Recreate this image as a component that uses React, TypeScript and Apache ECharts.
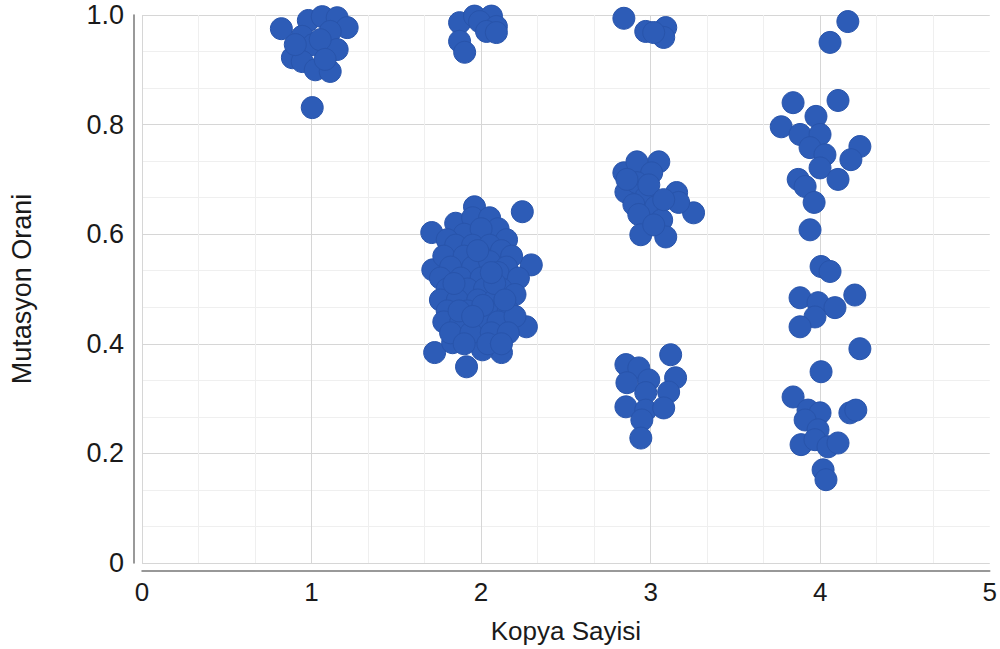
import React, { useEffect, useRef } from "react";
import * as echarts from "echarts";

const xTicks = [0, 1, 2, 3, 4, 5];
const yTicks = [0, 0.2, 0.4, 0.6, 0.8, 1.0];

const copy1: [number, number][] = [
  [0.822, 0.975], [0.981, 0.99], [1.063, 0.997], [1.151, 0.995], [1.21, 0.977],
  [0.945, 0.961], [1.11, 0.97], [1.01, 0.946], [1.151, 0.937], [0.887, 0.922],
  [0.945, 0.915], [1.022, 0.9], [1.11, 0.897], [1.004, 0.831], [0.904, 0.946],
  [1.051, 0.955], [1.08, 0.919],
];

const copy2High: [number, number][] = [
  [1.873, 0.986], [1.961, 0.998], [2.061, 0.998], [1.991, 0.988], [2.09, 0.979],
  [2.032, 0.97], [2.09, 0.968], [1.873, 0.952], [1.903, 0.932],
];

const copy2Main: [number, number][] = [
  [1.961, 0.65], [2.243, 0.641], [1.709, 0.603], [2.296, 0.544], [1.715, 0.535],
  [2.267, 0.431], [1.726, 0.384], [1.914, 0.358], [2.12, 0.384], [2.008, 0.389],
  [1.832, 0.402],
  [1.85, 0.62], [1.95, 0.63], [2.05, 0.63], [2.1, 0.61], [1.9, 0.6], [2.0, 0.61],
  [1.8, 0.59], [2.15, 0.59], [1.85, 0.58], [1.95, 0.58], [2.05, 0.58], [2.12, 0.57],
  [1.78, 0.56], [1.9, 0.56], [2.0, 0.56], [2.18, 0.56], [1.82, 0.54], [1.95, 0.54],
  [2.05, 0.55], [2.15, 0.54], [1.76, 0.52], [1.88, 0.52], [2.0, 0.52], [2.1, 0.53],
  [2.22, 0.52], [1.8, 0.5], [1.92, 0.5], [2.02, 0.5], [2.12, 0.5], [2.2, 0.49],
  [1.76, 0.48], [1.86, 0.48], [1.98, 0.48], [2.08, 0.48], [1.8, 0.46], [1.92, 0.46],
  [2.04, 0.46], [2.16, 0.46], [1.78, 0.44], [1.88, 0.44], [2.0, 0.44], [2.1, 0.44],
  [2.2, 0.45], [1.82, 0.42], [1.94, 0.42], [2.06, 0.42], [2.16, 0.42], [1.9, 0.4],
  [2.04, 0.4], [2.12, 0.4], [1.98, 0.57], [2.08, 0.51], [1.87, 0.46], [2.01, 0.47],
  [1.95, 0.45], [2.14, 0.48], [1.84, 0.51], [2.06, 0.53],
];

const copy3: [number, number][] = [
  [2.842, 0.994], [2.971, 0.97], [3.089, 0.977], [3.077, 0.959], [3.018, 0.968],
  [2.842, 0.712], [2.919, 0.732], [3.048, 0.732], [3.006, 0.712], [2.854, 0.677],
  [2.919, 0.694], [2.972, 0.668], [3.153, 0.676], [2.901, 0.654], [3.03, 0.65],
  [3.253, 0.639], [2.93, 0.636], [3.065, 0.626], [2.942, 0.599], [3.089, 0.595],
  [3.165, 0.658], [2.989, 0.69], [3.077, 0.663], [2.86, 0.7], [3.018, 0.617],
  [2.854, 0.362], [2.93, 0.356], [3.118, 0.38], [2.86, 0.329], [2.989, 0.334],
  [3.147, 0.338], [2.971, 0.311], [3.106, 0.312], [2.854, 0.285], [2.971, 0.279],
  [3.077, 0.283], [2.948, 0.261], [2.942, 0.228],
];

const copy4: [number, number][] = [
  [4.163, 0.988], [4.058, 0.95],
  [3.84, 0.84], [4.105, 0.844], [3.975, 0.815], [3.77, 0.796], [3.881, 0.782],
  [3.999, 0.782], [3.94, 0.758], [4.028, 0.745], [4.234, 0.76], [4.181, 0.736],
  [3.999, 0.721], [3.87, 0.7], [3.911, 0.687], [4.105, 0.7], [3.964, 0.658],
  [3.94, 0.608], [4.005, 0.541], [4.058, 0.532],
  [3.881, 0.484], [3.987, 0.475], [4.087, 0.466], [4.204, 0.489], [3.969, 0.449],
  [3.881, 0.431], [4.234, 0.391], [4.005, 0.349], [3.84, 0.303], [3.928, 0.279],
  [3.999, 0.274], [3.911, 0.261], [4.175, 0.274], [4.21, 0.279], [3.987, 0.243],
  [3.887, 0.216], [3.969, 0.225], [4.046, 0.212], [4.105, 0.219], [4.017, 0.17],
  [4.034, 0.152],
];

const allPoints = [...copy1, ...copy2High, ...copy2Main, ...copy3, ...copy4];

const FONT = "'Liberation Sans', Arial, sans-serif";

export default function App() {
  const ref = useRef<HTMLDivElement>(null);
  useEffect(() => {
    if (!ref.current) return;
    const chart = echarts.init(ref.current, undefined, { renderer: "svg" });
    chart.setOption({
      animation: false,
      backgroundColor: "#ffffff",
      grid: { left: 141, right: 7, top: 15, bottom: 86, containLabel: false },
      xAxis: {
        type: "value",
        min: xTicks[0],
        max: xTicks[xTicks.length - 1],
        interval: 1,
        offset: 8,
        name: "Kopya Sayisi",
        nameLocation: "middle",
        nameGap: 47,
        nameTextStyle: { fontSize: 26, color: "#1a1a1a", fontFamily: FONT },
        axisLine: { show: true, onZero: false, lineStyle: { color: "#777", width: 1.5 } },
        axisTick: { show: false },
        axisLabel: { fontSize: 26, color: "#1a1a1a", margin: 8, fontFamily: FONT },
        splitLine: { show: true, showMaxLine: false, lineStyle: { color: "#d6d6d6", width: 1 } },
        minorTick: { show: false, splitNumber: 3 },
        minorSplitLine: { show: true, lineStyle: { color: "#efefef", width: 1 } },
      },
      yAxis: {
        type: "value",
        min: yTicks[0],
        max: yTicks[yTicks.length - 1],
        interval: 0.2,
        offset: 8,
        name: "Mutasyon Orani",
        nameLocation: "middle",
        nameGap: 99,
        nameTextStyle: { fontSize: 27, color: "#1a1a1a", fontFamily: FONT },
        axisLine: { show: true, onZero: false, lineStyle: { color: "#777", width: 1.5 } },
        axisTick: { show: false },
        axisLabel: {
          fontSize: 27,
          color: "#1a1a1a",
          margin: 10,
          fontFamily: FONT,
          formatter: (v: number) => (v === 0 ? "0" : v.toFixed(1)),
        },
        splitLine: { show: true, lineStyle: { color: "#d6d6d6", width: 1 } },
        minorTick: { show: false, splitNumber: 3 },
        minorSplitLine: { show: true, lineStyle: { color: "#efefef", width: 1 } },
      },
      series: [
        {
          type: "scatter",
          data: allPoints,
          symbol: "circle",
          symbolSize: 22,
          itemStyle: { color: "#2d5cb7", borderColor: "#2854ab", borderWidth: 1, opacity: 1 },
          emphasis: { disabled: true },
        },
      ],
    });
    return () => chart.dispose();
  }, []);
  return <div ref={ref} style={{ width: 1000, height: 649, position: "absolute", left: 0, top: 0 }} />;
}
